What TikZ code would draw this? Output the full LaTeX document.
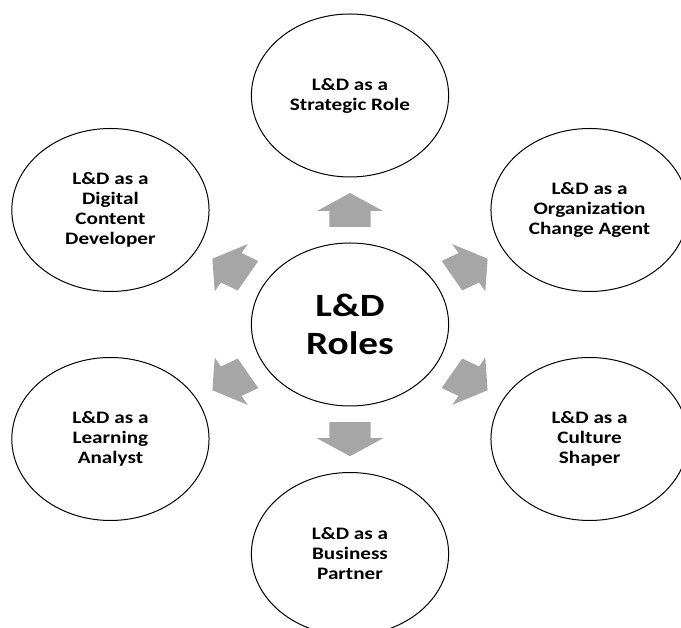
\documentclass[tikz,border=0pt]{standalone}
\usepackage{fontspec}
\setmainfont{Carlito}
\usetikzlibrary{calc}
\definecolor{arrowgray}{RGB}{166,166,166}
\tikzset{
  role/.style={circle, draw=black, line width=1pt, minimum size=163pt,
    inner sep=0pt, align=center,
    font=\fontsize{17.5}{20}\selectfont\bfseries},
  hub/.style={role, font=\fontsize{32.5}{38}\selectfont\bfseries},
  blockarrow/.style={fill=arrowgray, draw=none}
}
\begin{document}
\begin{tikzpicture}[x=1pt, y=1pt, xscale=1.21, transform shape]
  \useasboundingbox (-289.26,-303.5) rectangle (273.55,324.5);

  % central hub
  \node[hub] (c) at (0,0) {L\&D\\Roles};

  % surrounding roles
  \node[role] (top) at (0,229)        {L\&D as a\\Strategic Role};
  \node[role] (tr)  at (198,114.5)    {L\&D as a\\Organization\\Change Agent};
  \node[role] (br)  at (198,-114.5)   {L\&D as a\\Culture\\Shaper};
  \node[role] (bot) at (0,-229.5)     {L\&D as a\\Business\\Partner};
  \node[role] (bl)  at (-198,-114.5)  {L\&D as a\\Learning\\Analyst};
  \node[role] (tl)  at (-198,114.5)   {L\&D as a\\Digital\\Content\\Developer};

  % block arrows halfway between the hub and each role
  \foreach \t/\a in {top/90, tr/30, br/-30, bot/-90, bl/210, tl/150} {
    \begin{scope}[shift={($(c)!0.5!(\t)$)}, rotate=\a]
      \fill[blockarrow] (-17,-17) -- (-1,-17) -- (-1,-27.3) -- (17,0)
        -- (-1,27.3) -- (-1,17) -- (-17,17) -- cycle;
    \end{scope}
  }
\end{tikzpicture}
\end{document}
